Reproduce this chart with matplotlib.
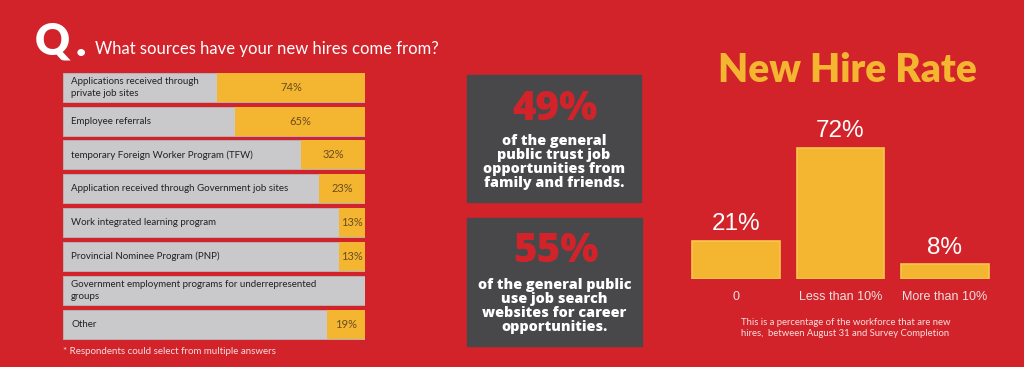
import matplotlib.pyplot as plt
from matplotlib.patches import Rectangle

# --- data ---
sources = ['Applications received through\nprivate job sites',
           'Employee referrals',
           'temporary Foreign Worker Program (TFW)',
           'Application received through Government job sites',
           'Work integrated learning program',
           'Provincial Nominee Program (PNP)',
           'Government employment programs for underrepresented\ngroups',
           'Other']
source_pct = [74, 65, 32, 23, 13, 13, 0, 19]

rate_cats = ['0', 'Less than 10%', 'More than 10%']
rate_pct = [21, 72, 8]

stat_pct = ['49%', '55%']
stat_text = ['of the general\npublic trust job\nopportunities from\nfamily and friends.',
             'of the general public\nuse job search\nwebsites for career\nopportunities.']

RED = '#d2232a'
YEL = '#f4b531'
GRAY = '#c9c9cb'
DARK = '#48484a'

W, H = 1024, 367
fig = plt.figure(figsize=(W / 100, H / 100), dpi=100, facecolor=RED)


def px(x, y):
    return x / W, 1 - y / H


def box(x0, y0, x1, y1):
    return [x0 / W, 1 - y1 / H, (x1 - x0) / W, (y1 - y0) / H]


# --- question header ---
fig.text(*px(35, 42), 'Q', color='white', fontsize=31, fontweight='heavy',
         family='Lato', va='center', ha='left')
fig.text(*px(76, 43), '.', color='white', fontsize=31, fontweight='heavy',
         family='Lato', va='center', ha='left')
fig.text(*px(95, 49), 'What sources have your new hires come from?', color='white',
         fontsize=12, family='Lato', va='center', ha='left')

# --- left: horizontal bars ---
ax = fig.add_axes(box(63, 70.3, 365, 341))
ax.set_facecolor(RED)
full = 151
ypos = range(len(sources))
ax.barh(ypos, [full] * len(sources), height=0.86, color=GRAY, edgecolor='#b8b8ba', lw=0.6)
lefts = [full - v for v in source_pct]
ax.barh(ypos, source_pct, left=lefts, height=0.86, color=YEL, edgecolor='none')
for i, (lab, v) in enumerate(zip(sources, source_pct)):
    ax.text(4, i, lab, va='center', ha='left', fontsize=7, color='#222224',
            family='Lato', linespacing=1.45)
    if v > 0:
        ax.text(full - v / 2, i, f'{v}%', va='center', ha='center', fontsize=8,
                color='#6a4d1f', family='Lato')
ax.set_xlim(0, full)
ax.set_ylim(len(sources) - 0.5, -0.5)
ax.axis('off')

fig.text(*px(63, 352), '* Respondents could select from multiple answers', color='#f6dede',
         fontsize=7, family='Lato', va='center', ha='left')

# --- middle: stat boxes ---
boxes = [(467, 75, 641, 202), (467, 218, 642, 346)]
pct_y = [110, 252]
txt_y = [162, 306]
for (x0, y0, x1, y1), p, t, py, ty in zip(boxes, stat_pct, stat_text, pct_y, txt_y):
    fig.patches.append(Rectangle(px(x0, y1), (x1 - x0) / W, (y1 - y0) / H,
                                 transform=fig.transFigure, color=DARK, zorder=0))
    fig.text(*px((x0 + x1) / 2 + 1, py), p, color=RED, fontsize=29, fontweight='heavy',
             family='Open Sans', ha='center', va='center')
    fig.text(*px((x0 + x1) / 2, ty), t, color='white', fontsize=10.4, fontweight='heavy',
             family='Open Sans', ha='center', va='center', linespacing=0.98)

# --- right: new hire rate ---
fig.text(*px(847, 70), 'New Hire Rate', color=YEL, fontsize=28, fontweight='heavy',
         family='Lato', ha='center', va='center')

ax2 = fig.add_axes(box(683.75, 133.4, 997.25, 279))
ax2.set_facecolor(RED)
xs = range(len(rate_cats))
ax2.bar(xs, rate_pct, width=0.84, color=YEL, edgecolor='#f7c54e', lw=1.2)
for x, v in zip(xs, rate_pct):
    ax2.annotate(f'{v}%', (x, v), xytext=(0, 4), textcoords='offset points',
                 ha='center', va='bottom', color='white', fontsize=17.5,
                 family='Liberation Sans')
ax2.set_xlim(-0.5, 2.5)
ax2.set_ylim(0, 80)
ax2.set_xticks(list(xs), rate_cats, family='Liberation Sans', fontsize=9, color='#ece2e2')
ax2.tick_params(axis='x', length=0, pad=9)
ax2.set_yticks([])
for s in ax2.spines.values():
    s.set_visible(False)

fig.text(*px(741, 328), 'This is a percentage of the workforce that are new\n'
         'hires,  between August 31 and Survey Completion', color='#f8e0e0',
         fontsize=6.8, family='Lato', ha='left', va='center', linespacing=1.15)

fig.savefig('out.png', dpi=100, facecolor=RED)
